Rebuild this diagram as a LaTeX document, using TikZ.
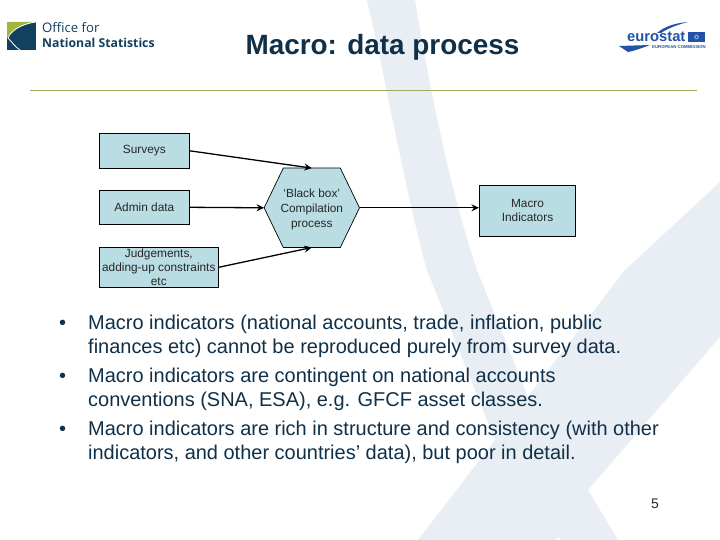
\documentclass[tikz,border=0pt]{standalone}
\usepackage{fontspec}
\setmainfont{Liberation Sans}
\newfontfamily\onsfont{Open Sans}
\usetikzlibrary{arrows.meta,calc}
\definecolor{bandc}{HTML}{E8EEF3}
\definecolor{boxc}{HTML}{B9DDE2}
\definecolor{navy}{HTML}{0F3048}
\definecolor{onsc}{HTML}{12405F}
\definecolor{onsg}{HTML}{A3B53A}
\definecolor{rulec}{HTML}{A3A85A}
\definecolor{eub}{HTML}{1F52A8}
\tikzset{
  x=1bp,y=-1bp,
  boxn/.style={draw=black,line width=.7bp,fill=boxc,inner sep=0pt,align=center,font=\fontsize{11.9}{14.2}\selectfont,text=black!85},
  conn/.style={draw=black,line width=1.3bp,-{Stealth[length=7.5bp,width=7bp]}},
  bullet/.style={anchor=north west,inner sep=0pt,align=left,text=navy,font=\fontsize{20.05}{24}\selectfont}
}
\begin{document}
\begin{tikzpicture}
\useasboundingbox (0,0) rectangle (720,540);
% background shape
\fill[bandc] (367,0) .. controls (385,75) and (405,190) .. (427,270) -- (495,440) -- (625,270) -- (720,182) -- (720,337) -- (588,490) -- (618,540) -- (561,540) -- (558,537) -- (555,540) -- (418,540) -- (495,440) -- (427,270) -- cycle;
\fill[bandc] (367,0) -- (415,0) .. controls (430,90) and (450,190) .. (477,270) -- (528,397) -- (625,270) -- (588,490) -- (495,440) -- (427,270) .. controls (405,190) and (385,75) .. (367,0) -- cycle;
% ONS logo
\fill[onsc] (7,22) rectangle (36,50);
\fill[onsg] (7,22) -- (36,22) .. controls (22,24) and (12,30) .. (7,38) -- cycle;
\draw[white,line width=.8bp] (36,22) .. controls (20,24) and (10,32) .. (8,38) .. controls (12,42) and (15,47) .. (20,50);
\node (onsa) [anchor=base west,inner sep=0pt,text=onsc,font=\onsfont\fontsize{13.2}{14}\selectfont] at (42,33) {Office for};
\node (onsb) [anchor=base west,inner sep=0pt,text=onsc,font=\onsfont\fontsize{12.3}{14}\selectfont\bfseries] at (42,48) {National Statistics};
% eurostat logo
\node (eu) [anchor=base west,inner sep=0pt,text=eub,font=\fontsize{14.8}{16}\selectfont\bfseries] at (627,42) {eurostat};
\fill[eub] (688,32) rectangle (705,42);
\fill[eub!55] (696.5,37) circle (2.4);
\fill[eub] (696.5,37) circle (1.2);
\fill[eub] (657,33) .. controls (665,26) and (676,23) .. (688,22) .. controls (676,25) and (667,29) .. (661,33) -- cycle;
\fill[eub] (619,46) -- (650,45) .. controls (642,48) and (634,51) .. (628,52) .. controls (625,50) and (622,48) .. (619,46) -- cycle;
\node (eusub) [anchor=base west,inner sep=0pt,text=eub,font=\fontsize{4.3}{5}\selectfont\bfseries] at (652,49) {EUROPEAN COMMISSION};
% title and rule
\node (title) [inner sep=0pt,text=navy,font=\fontsize{28}{30}\selectfont\bfseries] at (382.5,47.5) {Macro: data process};
\coordinate (rl) at (30,90.3);
\coordinate (rr) at (697,90.3);
\draw[rulec,line width=.9bp] (rl) -- (rr);
% diagram
\node (sv) [boxn,minimum width=90bp,minimum height=35bp] at (144.3,150.8) {Surveys};
\node (ad) [boxn,minimum width=90bp,minimum height=34bp] at (144.3,207.3) {Admin data};
\node (jd) [boxn,minimum width=119bp,minimum height=40bp] at (158.8,267.3) {Judgements,\\adding-up constraints\\etc};
\node (hex) [inner sep=0pt,minimum width=95bp,minimum height=79bp] at (311.8,207.8) {};
\fill[boxc,draw=black,line width=.7bp] (hex.west) -- ($(hex.north)+(-28.5,0)$) -- ($(hex.north)+(28.5,0)$) -- (hex.east) -- ($(hex.south)+(28.5,0)$) -- ($(hex.south)+(-28.5,0)$) -- cycle;
\node (hext) [inner sep=0pt,align=center,font=\fontsize{11.9}{15}\selectfont,text=black!85] at ($(hex.center)+(0,1.8)$) {`Black box'\\Compilation\\process};
\node (mi) [boxn,minimum width=96.4bp,minimum height=51bp] at (527.5,210.5) {Macro\\Indicators};
\draw[conn] (sv.east) -- (hex.north);
\draw[conn] (ad.east) -- (hex.west);
\draw[conn] (jd.east) -- (hex.south);
\draw[conn] (hex.east) -- (mi.west |- hex.east);
% bullets
\node (ba) [bullet] at (88,315) {\llap{•\hspace{22bp}}Macro indicators (national accounts, trade, inflation, public\\finances etc) cannot be reproduced purely from survey data.};
\node (bb) [bullet] at (88,368) {\llap{•\hspace{22bp}}Macro indicators are contingent on national accounts\\conventions (SNA, ESA), e.g. GFCF asset classes.};
\node (bc) [bullet] at (88,421) {\llap{•\hspace{22bp}}Macro indicators are rich in structure and consistency (with other\\indicators, and other countries’ data), but poor in detail.};
\node (pg) [inner sep=0pt,text=black!85,font=\fontsize{14}{16}\selectfont] at (655,503.5) {5};
\end{tikzpicture}
\end{document}
